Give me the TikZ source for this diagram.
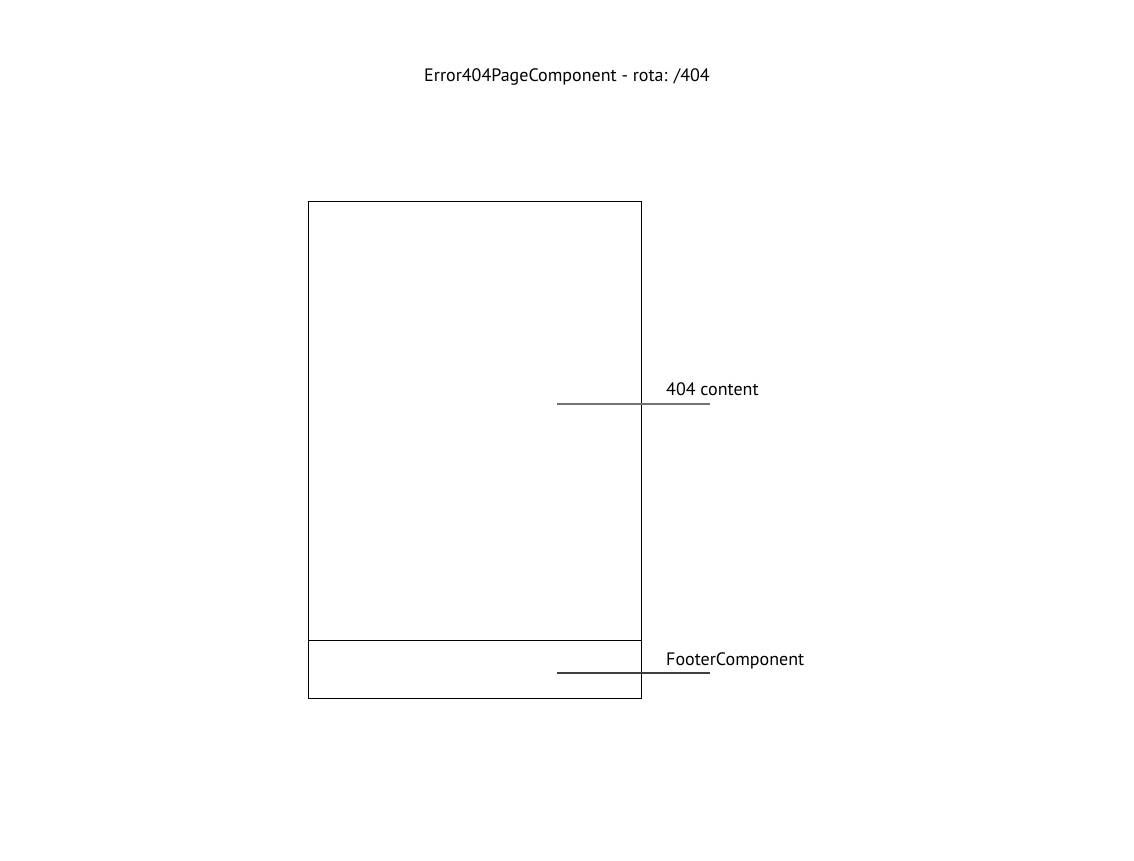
\documentclass[tikz,border=0pt]{standalone}
\usepackage{fontspec}
\setmainfont{PT Sans}
\begin{document}
\begin{tikzpicture}[x=1pt,y=-1pt,
  frame/.style={draw=black,line width=1pt},
  leader/.style={draw=black!55,line width=1.1pt},
  lbl/.style={anchor=base west,inner sep=0pt,font=\fontsize{18}{21}\selectfont},
  ttl/.style={anchor=base,inner sep=0pt,font=\fontsize{18}{21}\selectfont}]
\useasboundingbox (0,0) rectangle (1134,860);
\node[ttl] (title) at (567,81) {Error404PageComponent - rota: /404};
\node[frame,minimum width=333pt,minimum height=497pt,inner sep=0pt,anchor=north west] (page) at (308,201) {};
\coordinate (divl) at (308,640);
\coordinate (divr) at (641,640);
\draw[frame] (divl) -- (divr);
\coordinate (c1) at (557,404);
\coordinate (c1e) at (710,404);
\coordinate (c2) at (557,673);
\coordinate (c2e) at (710,673);
\draw[leader] (c1) -- (c1e);
\draw[leader,draw=black!75] (c2) -- (c2e);
\node[lbl] (l1) at (666,395) {404 content};
\node[lbl] (l2) at (666,665) {FooterComponent};
\end{tikzpicture}
\end{document}
